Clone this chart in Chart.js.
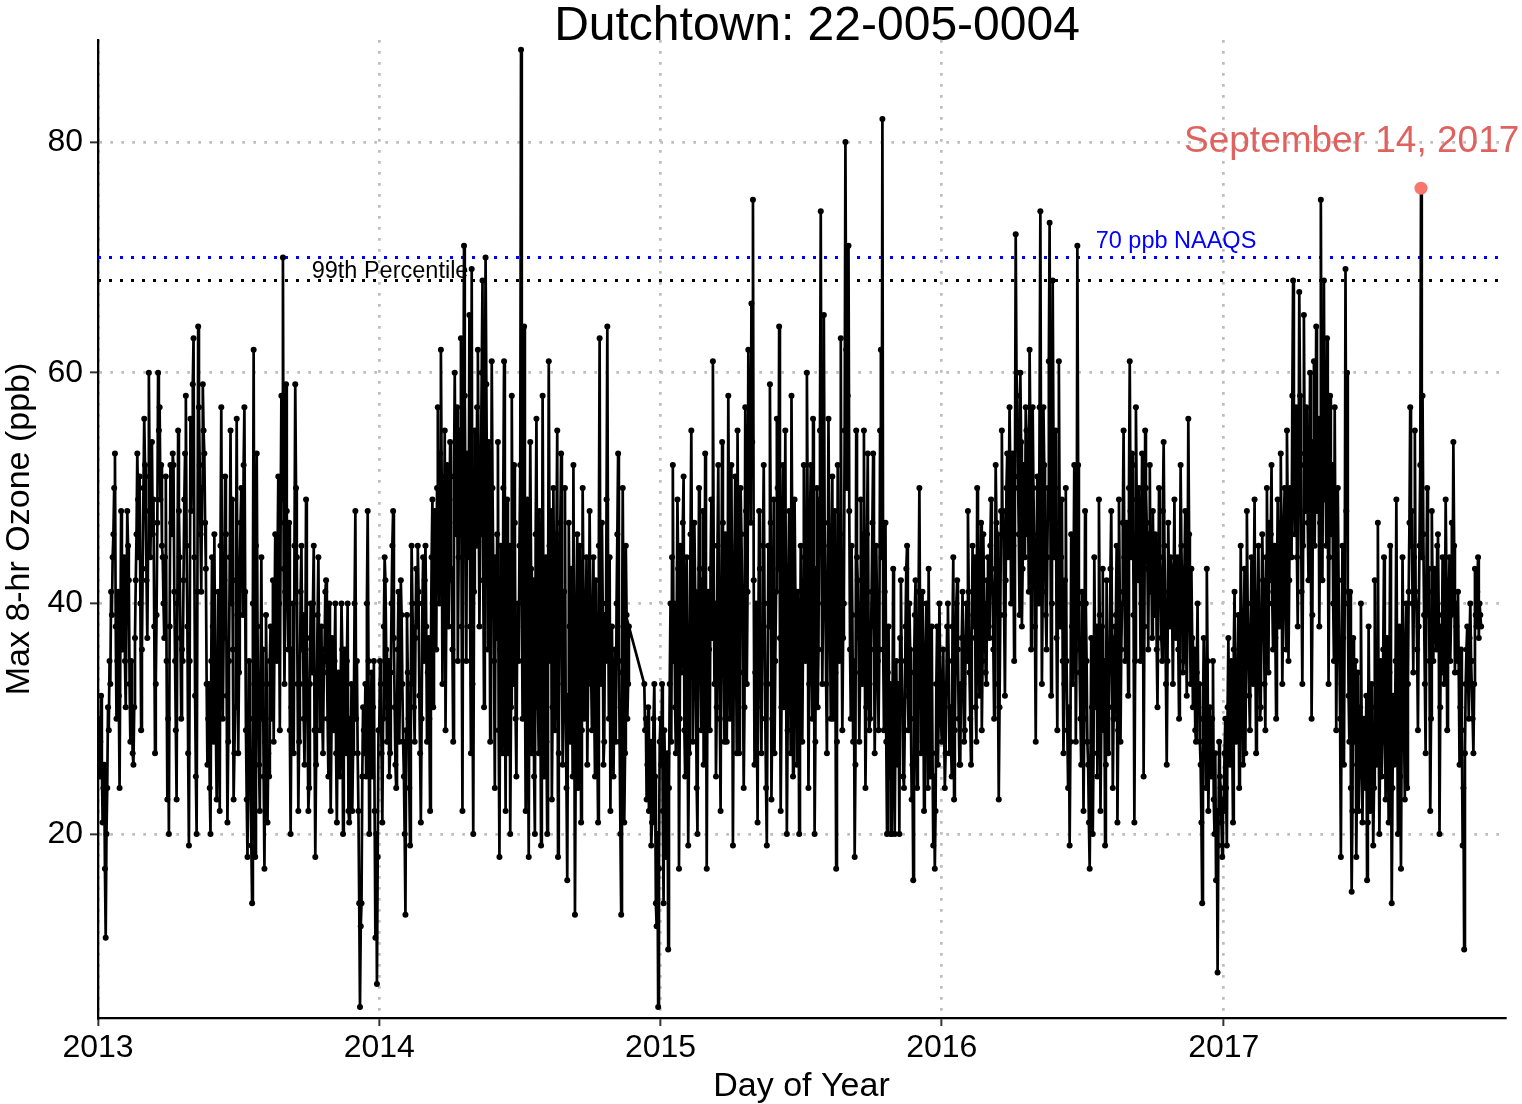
<!DOCTYPE html>
<html>
<head>
<meta charset="utf-8">
<script src="https://cdn.jsdelivr.net/npm/chart.js@4.4.1/dist/chart.umd.min.js"></script>
<style>
  html, body { margin: 0; padding: 0; background: #ffffff; }
  #wrap { width: 1522px; height: 1104px; }
</style>
</head>
<body>
<div id="wrap"><canvas id="c" width="1522" height="1104"></canvas></div>
<script>
// ---- Data: daily max 8-hr ozone (ppb), one row per month, null = missing ----
const yearLabels = ['2013', '2014', '2015', '2016', '2017'];
const yearStartDays = [0, 365, 730, 1095, 1461];   // days since 2013-01-01
const stepDays = 1;

const ozone2013 = [
  30,27,25,28,32,26,21,24,26,17,11,20,24,31,29,35,33,41,39,44,46,50,53,38,30,35,41,32,24,36,48,40,
  36,41,44,35,31,39,48,45,42,33,28,35,30,27,26,31,37,42,46,53,49,44,51,40,29,36,43,50,
  56,52,48,42,37,45,60,51,44,49,54,46,49,38,27,33,39,47,60,55,57,49,52,45,44,40,37,44,51,35,
  23,30,20,38,52,47,46,53,52,41,35,29,23,40,55,48,44,37,30,36,35,42,49,53,58,45,38,27,19,35,
  56,48,54,59,63,44,32,25,20,41,64,57,52,46,41,50,59,55,53,47,43,33,26,30,33,24,20,35,44,38,28,46,
  35,29,23,33,41,30,22,45,57,40,30,37,42,51,46,32,21,28,35,44,55,40,49,36,23,27,31,42,56,39,
  27,34,43,47,50,44,39,52,57,41,29,23,18,27,35,30,24,19,14,40,62,33,18,45,53,38,31,26,22,33,
  44,30,36,25,17,28,39,33,21,27,25,35,38,30,33,42,28,37,46,39,35,44,51,40,29,47,58,49,70,43,33,41,
  59,48,41,36,47,29,20,31,36,40,27,45,59,50,44,33,22,28,33,41,45,36,39,30,26,34,49,37,30,22,
  24,33,40,36,34,40,45,29,18,26,33,39,44,35,29,32,38,30,27,34,36,41,42,35,30,25,40,31,22,29,
  37,32,29,35,40,27,21,30,34,28,25,33,40,36,20,29,36,31,27,35,40,22,21,30,26,33,22,27,30,40,
  48,30,35,27,22,14,5,12,14,25,31,29,27,33,25,40,48,35,20,26,30,34,25,31,35,22,11,20,7,18,29
];
const ozone2014 = [
  29,35,33,27,21,30,38,44,42,36,28,31,35,25,27,34,40,45,48,37,31,26,24,30,36,41,28,33,42,39,33,28,
  25,20,13,29,39,34,30,24,19,33,45,40,36,31,28,37,43,38,45,41,32,27,21,30,40,44,35,42,
  45,38,28,34,37,30,22,35,44,49,31,40,48,43,36,50,57,46,40,53,62,51,33,42,45,55,29,39,52,44,
  38,47,54,42,43,36,28,51,60,49,46,57,35,44,55,52,63,38,22,50,71,58,48,35,53,45,44,65,38,27,
  69,33,20,41,55,48,45,57,62,50,38,46,52,60,68,42,31,54,70,59,48,36,54,47,28,40,61,50,43,35,24,44,
  37,46,54,29,18,36,45,39,27,50,61,34,22,41,49,27,36,45,20,31,58,42,33,52,47,30,25,38,40,35,
  45,52,88,41,30,47,64,36,22,38,49,30,18,40,54,43,27,35,42,25,20,46,56,39,31,27,48,34,19,29,
  58,42,25,33,44,28,20,37,61,45,35,48,23,31,50,40,29,36,46,55,18,27,39,47,53,38,26,33,41,50,30,24,
  16,32,47,38,28,43,36,25,52,34,13,27,40,46,24,31,45,37,21,29,50,41,30,36,38,44,26,33,35,48,
  40,34,29,38,44,31,25,42,36,28,21,45,63,37,33,47,40,26,28,39,35,49,64,41,30,44,22,35,38,29,
  25,31,36,28,40,46,53,35,28,20,13,34,50,38,21,27,45,39,30,33,38,null,null,null,null,null,null,null,null,null,
  null,null,null,null,null,null,null,null,null,null,33,29,30,23,26,31,22,27,28,19,21,26,30,33,25,14,12,20,5,17,28
];
const ozone2015 = [
  30,26,33,22,14,29,25,18,21,27,10,24,33,40,28,44,52,35,40,31,27,38,49,43,17,30,45,34,36,47,51,29,
  25,37,44,32,19,27,38,46,55,40,28,35,47,41,32,24,20,36,50,43,35,29,42,48,26,33,53,39,
  17,34,41,36,29,43,49,37,61,45,33,40,25,31,45,52,38,30,22,39,54,47,35,28,46,41,28,36,58,44,
  30,45,52,38,19,33,44,51,36,27,55,42,27,39,50,46,41,34,24,31,57,48,33,41,62,53,60,47,66,54,
  75,42,26,34,40,31,21,37,48,43,33,27,36,45,52,40,30,24,19,33,45,38,59,47,23,30,38,49,27,35,41,56,
  50,43,64,37,22,31,46,52,31,40,55,34,20,29,43,48,36,27,58,45,25,36,49,41,33,26,41,35,20,32,
  45,39,28,37,52,44,35,41,60,48,24,33,47,52,38,30,56,42,20,28,43,50,31,36,49,55,74,46,33,40,
  65,47,41,33,27,39,56,45,38,30,44,51,30,36,48,34,17,28,52,43,35,46,63,39,29,37,40,55,80,62,50,58,
  71,48,36,30,45,39,28,35,18,26,55,44,42,37,28,34,49,40,33,46,55,38,24,31,46,53,38,29,30,36,
  41,47,53,38,27,33,45,40,35,29,36,55,62,44,82,36,29,41,47,28,20,34,38,25,33,20,20,29,43,31,
  20,30,35,27,26,33,20,37,42,35,31,25,24,29,38,43,45,32,29,40,36,30,23,26,16,34,39,42,28,24,
  33,41,50,36,27,31,41,34,22,29,36,40,30,24,43,35,25,33,38,27,19,25,17,22,33,38,26,30,40,34,30
];
const ozone2016 = [
  28,32,36,30,24,27,33,38,40,35,27,31,31,25,38,44,23,29,35,40,42,36,30,26,26,33,37,41,33,28,29,37,
  40,35,48,41,34,30,26,37,45,39,38,44,31,28,50,43,36,32,42,47,29,35,46,40,39,34,33,42,
  44,38,37,45,49,43,41,36,30,40,52,47,46,33,23,31,39,48,55,46,48,39,32,42,50,53,44,49,57,51,
  40,47,53,45,35,50,72,60,58,51,46,39,60,54,38,43,52,48,44,57,55,46,49,41,62,55,36,45,57,50,
  45,38,28,42,51,46,40,57,74,49,33,41,57,52,46,39,36,44,50,61,73,48,32,40,68,54,44,50,55,37,29,46,
  61,47,38,44,49,35,27,33,42,50,35,29,24,31,19,28,46,38,33,41,52,45,28,36,71,52,40,34,30,26,
  41,33,22,30,48,40,35,28,26,21,17,25,37,31,20,27,44,36,31,38,25,33,49,39,22,29,38,43,29,35,
  19,26,42,34,27,31,35,43,48,37,24,30,30,38,39,45,21,29,49,41,28,36,40,47,55,44,35,42,47,39,32,50,
  61,48,44,53,52,39,21,35,57,49,46,42,50,45,35,40,53,47,25,38,55,50,47,43,36,46,52,41,44,37,
  48,42,39,46,45,36,31,40,50,44,42,37,35,48,54,45,40,33,26,35,47,41,38,44,43,39,33,42,49,38,
  37,41,44,36,30,39,52,45,41,34,35,43,48,38,32,40,56,46,39,33,43,37,31,35,36,29,28,34,40,31,
  33,28,26,21,14,30,37,33,29,24,43,35,22,27,31,26,25,30,35,23,20,27,16,22,8,19,28,25,24,21,18,23
];
const ozone2017 = [
  22,27,30,24,19,31,37,29,26,33,35,28,21,36,41,34,28,30,33,39,24,29,45,38,31,26,38,43,27,35,48,40,
  36,32,29,38,44,37,33,41,49,36,27,34,40,45,35,30,31,39,46,42,38,33,29,44,50,41,34,47,
  42,46,52,40,36,43,45,37,30,41,49,44,38,47,53,45,33,39,47,50,41,36,55,48,35,42,50,46,44,58,
  68,51,46,55,57,44,38,49,67,58,52,41,33,45,65,53,48,57,55,47,42,50,60,46,30,39,54,61,45,52,
  64,48,50,56,38,47,75,53,42,55,68,49,55,45,63,51,33,44,58,47,46,52,40,35,57,43,29,38,50,42,36,30,
  18,33,45,37,26,41,69,48,60,40,32,28,41,24,15,22,37,30,28,35,18,26,34,22,25,31,40,29,21,27,
  30,25,24,32,16,21,38,29,22,27,33,26,19,24,42,31,26,35,47,30,20,28,35,25,28,36,44,33,23,30,
  37,29,21,34,45,31,14,24,32,26,27,35,49,33,20,28,38,25,17,30,44,36,29,23,36,40,24,33,41,47,57,45,
  48,40,34,44,55,41,40,36,29,38,45,52,76,44,58,46,39,33,27,42,50,39,43,35,22,30,48,41,35,43,
  41,38,36,45,46,39,20,31,38,34,44,40,33,37,49,42,29,36,40,44,35,39,47,41,54,45,34,40,38,35,
  41,34,26,31,36,29,19,24,10,27,33,36,38,34,30,37,40,35,35,30,27,33,43,39,38,41,44,37,40,39,
  38
];
const ozoneByYear = [ozone2013, ozone2014, ozone2015, ozone2016, ozone2017];

// Highlighted day: September 14, 2017
const highlightDay = [1717];
const highlightValue = [76];
const highlightLabel = 'September 14, 2017';

// Reference lines
const naaqsValue = 70;
const percentile99Value = 68;

// Axis ticks
const yTickValues = [20, 40, 60, 80];

// ---- Build series ----
const seriesPoints = [];
ozoneByYear.forEach((vals, yi) => {
  vals.forEach((v, k) => {
    seriesPoints.push({ x: yearStartDays[yi] + k * stepDays, y: v });
  });
});

const X_MIN = 0, X_MAX = 1826;
const Y_MIN = 4.05, Y_MAX = 88.85;
const FONT = '"Liberation Sans", Arial, Helvetica, sans-serif';

const textPlugin = {
  id: 'texts',
  afterDraw(chart) {
    const ctx = chart.ctx;
    const xs = chart.scales.x, ys = chart.scales.y;
    const ca = chart.chartArea;
    ctx.save();
    ctx.fillStyle = '#000000';
    ctx.font = '48px ' + FONT;
    ctx.textAlign = 'center';
    ctx.textBaseline = 'alphabetic';
    ctx.fillText('Dutchtown: 22-005-0004', 817, 40);
    ctx.font = '34px ' + FONT;
    ctx.textBaseline = 'middle';
    ctx.fillText('Day of Year', (ca.left + ca.right) / 2, 1087);
    ctx.save();
    ctx.translate(20, (ca.top + ca.bottom) / 2);
    ctx.rotate(-Math.PI / 2);
    ctx.fillText('Max 8-hr Ozone (ppb)', 0, 0);
    ctx.restore();
    ctx.font = '23.5px ' + FONT;
    ctx.fillStyle = '#000000';
    ctx.fillText('99th Percentile', xs.getPixelForValue(379), ys.getPixelForValue(68.8));
    ctx.fillStyle = '#0000FF';
    ctx.fillText('70 ppb NAAQS', xs.getPixelForValue(1399), ys.getPixelForValue(71.4));
    ctx.fillStyle = '#E0625F';
    ctx.font = '37px ' + FONT;
    ctx.fillText(highlightLabel, xs.getPixelForValue(1627), ys.getPixelForValue(80));
    ctx.restore();
  }
};

new Chart(document.getElementById('c'), {
  type: 'line',
  data: {
    datasets: [
      {
        label: 'highlight',
        data: highlightDay.map((d, i) => ({ x: d, y: highlightValue[i] })),
        showLine: false,
        pointRadius: 6.5,
        pointBackgroundColor: '#F8766D',
        pointBorderWidth: 0,
        order: 0
      },
      {
        label: 'ozone',
        data: seriesPoints,
        borderColor: '#000000',
        borderWidth: 2.7,
        pointRadius: 3,
        pointBackgroundColor: '#000000',
        pointBorderWidth: 0,
        spanGaps: true,
        tension: 0,
        order: 1
      },
      {
        label: 'naaqs',
        data: [{ x: X_MIN, y: naaqsValue }, { x: X_MAX, y: naaqsValue }],
        borderColor: '#0000FF',
        borderWidth: 3,
        borderDash: [3, 8],
        pointRadius: 0,
        order: 2
      },
      {
        label: 'p99',
        data: [{ x: X_MIN, y: percentile99Value }, { x: X_MAX, y: percentile99Value }],
        borderColor: '#000000',
        borderWidth: 3,
        borderDash: [3, 8],
        pointRadius: 0,
        order: 3
      }
    ]
  },
  options: {
    responsive: false,
    animation: false,
    devicePixelRatio: 1,
    layout: { padding: { top: 40, right: 17, left: 0, bottom: 0 } },
    plugins: { legend: { display: false }, tooltip: { enabled: false }, title: { display: false } },
    scales: {
      x: {
        type: 'linear',
        min: X_MIN, max: X_MAX,
        afterFit(scale) { scale.height = 86; },
        afterBuildTicks(scale) { scale.ticks = yearStartDays.map(v => ({ value: v })); },
        ticks: {
          callback: (v) => { const i = yearStartDays.indexOf(v); return i >= 0 ? yearLabels[i] : ''; },
          font: { family: FONT, size: 32 },
          color: '#000000',
          padding: 3,
          maxRotation: 0,
          autoSkip: false
        },
        grid: {
          color: '#BEBEBE', lineWidth: 2.7,
          drawTicks: true, tickLength: 8, tickColor: '#333333', tickWidth: 2, tickBorderDash: []
        },
        border: { display: true, color: '#000000', width: 2.3, dash: [2.7, 8.3] }
      },
      y: {
        type: 'linear',
        min: Y_MIN, max: Y_MAX,
        afterFit(scale) { scale.width = 98; },
        afterBuildTicks(scale) { scale.ticks = yTickValues.map(v => ({ value: v })); },
        ticks: {
          font: { family: FONT, size: 32 },
          color: '#000000',
          padding: 7
        },
        grid: {
          color: '#BEBEBE', lineWidth: 2.7,
          drawTicks: true, tickLength: 8, tickColor: '#333333', tickWidth: 2, tickBorderDash: []
        },
        border: { display: true, color: '#000000', width: 2.3, dash: [2.7, 8.3] }
      }
    }
  },
  plugins: [textPlugin]
});
</script>
</body>
</html>
